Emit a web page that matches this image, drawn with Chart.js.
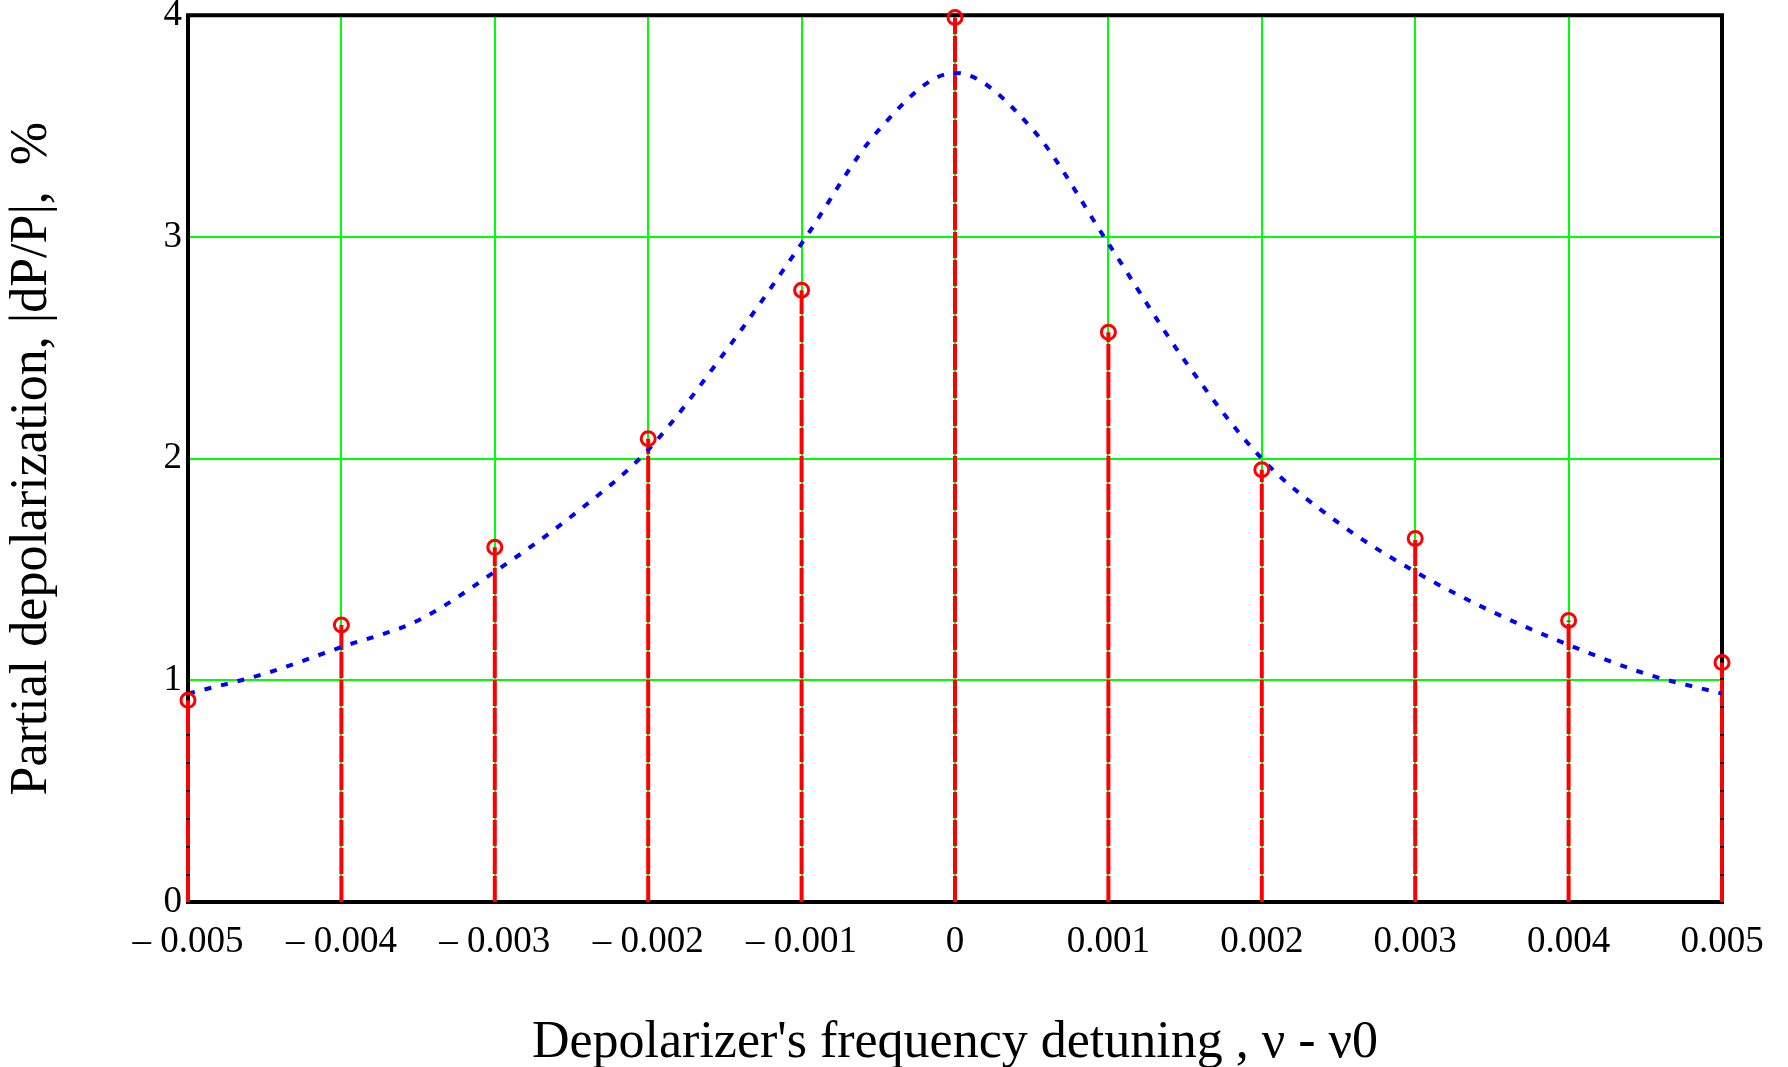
<!DOCTYPE html>
<html>
<head>
<meta charset="utf-8">
<script src="https://cdn.jsdelivr.net/npm/chart.js@4.4.1/dist/chart.umd.min.js"></script>
<style>
  body { margin: 0; background: #fff; }
</style>
</head>
<body>
<canvas id="depolChart" width="1788" height="1067"></canvas>
<script>
// frequency detuning ticks and their labels
const xTicks = [-0.005, -0.004, -0.003, -0.002, -0.001, 0, 0.001, 0.002, 0.003, 0.004, 0.005];
const xTickLabels = ['\u2013 0.005', '\u2013 0.004', '\u2013 0.003', '\u2013 0.002', '\u2013 0.001', '0',
                     '0.001', '0.002', '0.003', '0.004', '0.005'];
const yTicks = [0, 1, 2, 3, 4];
const yTickLabels = ['0', '1', '2', '3', '4'];

// measured points (red stems)
const stemX = [-0.005, -0.004, -0.003, -0.002, -0.001, 0, 0.001, 0.002, 0.003, 0.004, 0.005];
const stemValues = [0.91, 1.25, 1.60, 2.09, 2.76, 3.99, 2.57, 1.95, 1.64, 1.27, 1.08];

// model curve (blue dotted)
const curveX = [-0.005, -0.0045, -0.004, -0.0035, -0.003, -0.0025, -0.002, -0.0015, -0.001, -0.0005, 0,
                0.0005, 0.001, 0.0015, 0.002, 0.0025, 0.003, 0.0035, 0.004, 0.0045, 0.005];
const curveValues = [0.94, 1.03, 1.15, 1.27, 1.49, 1.74, 2.04, 2.48, 2.97, 3.48, 3.74,
                     3.49, 2.97, 2.44, 2.00, 1.71, 1.49, 1.31, 1.16, 1.03, 0.94];

const stemData = stemX.flatMap((x, i) => [{ x: x, y: 0 }, { x: x, y: stemValues[i] }, { x: x, y: null }]);

const framePlugin = {
    id: 'frame',
    beforeDatasetsDraw(chart) {
        const a = chart.chartArea;
        const c = chart.ctx;
        c.save();
        c.strokeStyle = '#000';
        c.lineWidth = 4;
        c.strokeRect(a.left, a.top, a.right - a.left, a.bottom - a.top);
        c.restore();
    }
};

const serif = 'Liberation Serif';

new Chart(document.getElementById('depolChart').getContext('2d'), {
    type: 'scatter',
    data: {
        datasets: [
            {
                data: stemData,
                showLine: true,
                spanGaps: false,
                borderColor: '#ff0000',
                borderWidth: 4,
                borderDash: [26, 2],
                pointRadius: 0,
                clip: false,
                order: 3
            },
            {
                data: curveX.map((x, i) => ({ x: x, y: curveValues[i] })),
                showLine: true,
                borderColor: '#0000ff',
                borderWidth: 4,
                borderDash: [7, 10],
                tension: 0.4,
                cubicInterpolationMode: 'monotone',
                pointRadius: 0,
                order: 2
            },
            {
                data: stemX.map((x, i) => ({ x: x, y: stemValues[i] })),
                showLine: false,
                pointStyle: 'circle',
                pointRadius: 7,
                borderColor: '#ff0000',
                borderWidth: 3,
                backgroundColor: 'rgba(255,255,255,0)',
                clip: false,
                order: 1
            }
        ]
    },
    options: {
        responsive: false,
        animation: false,
        layout: { padding: { top: 0, right: 66, left: 0, bottom: 0 } },
        plugins: {
            legend: { display: false },
            tooltip: { enabled: false }
        },
        scales: {
            x: {
                type: 'linear',
                min: -0.005,
                max: 0.005,
                afterBuildTicks: s => { s.ticks = xTicks.map(v => ({ value: v })); },
                afterFit: s => { s.height = 165; },
                border: { display: false },
                grid: {
                    drawTicks: false,
                    lineWidth: 2,
                    color: ctx => (ctx.index === 0 || ctx.index === xTicks.length - 1) ? 'rgba(0,0,0,0)' : '#00ff00'
                },
                ticks: {
                    padding: 18,
                    maxRotation: 0,
                    autoSkip: false,
                    color: '#000',
                    font: { family: serif, size: 37 },
                    callback: (v, i) => xTickLabels[i]
                },
                title: {
                    display: true,
                    text: "Depolarizer's frequency detuning , \u03bd - \u03bd0",
                    color: '#000',
                    font: { family: serif, size: 52, lineHeight: 0.9 },
                    padding: { top: 0, bottom: 0 }
                }
            },
            y: {
                type: 'linear',
                min: 0,
                max: 4,
                afterBuildTicks: s => { s.ticks = yTicks.map(v => ({ value: v })); },
                afterFit: s => { s.width = 188; },
                border: { display: false },
                grid: {
                    drawTicks: false,
                    lineWidth: 2,
                    color: ctx => (ctx.index === 0 || ctx.index === yTicks.length - 1) ? 'rgba(0,0,0,0)' : '#00ff00'
                },
                ticks: {
                    padding: 6,
                    color: '#000',
                    font: { family: serif, size: 37, lineHeight: 0.5 },
                    callback: (v, i) => yTickLabels[i]
                },
                title: {
                    display: true,
                    text: 'Partial depolarization, |dP/P|,  %',
                    color: '#000',
                    font: { family: serif, size: 52, lineHeight: 1.1 },
                    padding: { top: 4, bottom: 0 }
                }
            }
        }
    },
    plugins: [framePlugin]
});
</script>
</body>
</html>
